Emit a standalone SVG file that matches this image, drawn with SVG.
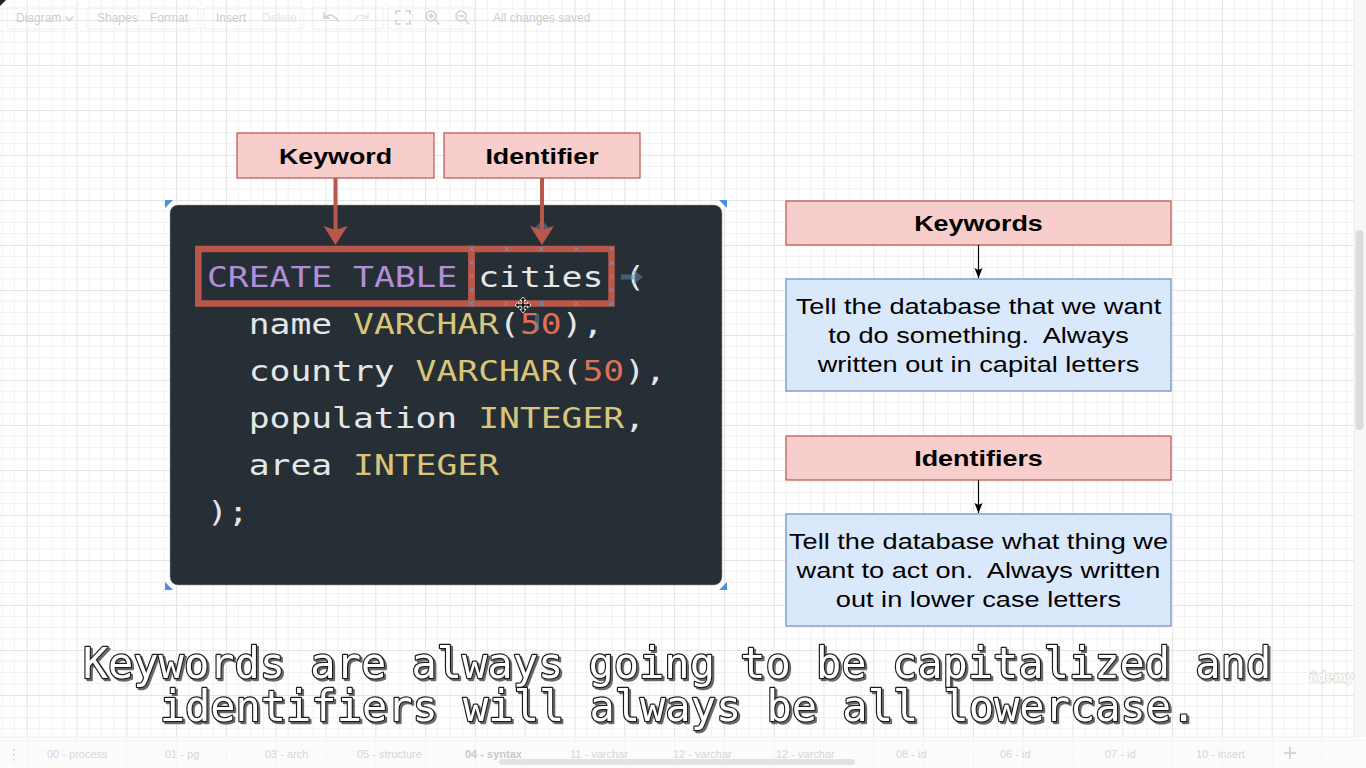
<svg xmlns="http://www.w3.org/2000/svg" width="1366" height="768" viewBox="0 0 1366 768">
<style>
.ui{font-family:"Liberation Sans",Arial,sans-serif;font-size:12px;fill:#cdcdcd}
.tab{font-family:"Liberation Sans",Arial,sans-serif;font-size:11px;fill:#d6d6d6}
.lbl{font-family:"Liberation Sans",Arial,sans-serif;font-size:22px;font-weight:bold;fill:#000;text-anchor:middle}
.body{font-family:"Liberation Sans",Arial,sans-serif;font-size:22px;fill:#000;text-anchor:middle}
.pink{fill:#f8cecc;stroke:#b85450;stroke-width:1.2}
.blue{fill:#dae8fc;stroke:#6c8ebf;stroke-width:1.2}
.code{font-family:"DejaVu Sans Mono","Liberation Mono",monospace;font-size:28.4px}
.kw{fill:#b18fd6}.id{fill:#e4e6e8}.ty{fill:#d9c57a}.num{fill:#df6f57}
.hl{fill:none;stroke:#b9584a;stroke-width:6.5}
.cp{stroke:#7b98bf;stroke-width:1}
.sub{font-family:"DejaVu Sans Mono","Liberation Mono",monospace;font-size:42px;text-anchor:middle;fill:#fff;stroke:#1a1a1a;stroke-width:2.4;paint-order:stroke fill;stroke-linejoin:round}
.sel{fill:#4a8fe0}
.hover{fill:#5b86aa;opacity:0.55}
.icon{fill:none;stroke:#d2d2d2;stroke-width:1.6;stroke-linecap:round}
.tbox{fill:none;stroke:#f0f0f0;stroke-width:1}
</style>
<defs>
<pattern id="grid" patternUnits="userSpaceOnUse" x="26.7" y="20" width="49.8" height="45">
<path d="M12.45 0V45M24.9 0V45M37.35 0V45M0 11.25H49.8M0 22.5H49.8M0 33.75H49.8" stroke="#f1f1f1" stroke-width="1" fill="none"/>
<path d="M0.5 0V45M0 0.5H49.8" stroke="#e4e4e4" stroke-width="1" fill="none"/>
</pattern>
<filter id="shadow" x="-5%" y="-20%" width="110%" height="140%">
<feDropShadow dx="2" dy="2" stdDeviation="0.4" flood-color="#5a5a5a" flood-opacity="0.9"/>
</filter>
<marker id="thick" markerUnits="userSpaceOnUse" markerWidth="20" markerHeight="26" refX="9" refY="12" orient="auto">
<path d="M0,0 L19,12 L0,24 L4,12 z" fill="#b9584a"/>
</marker>
<marker id="thin" markerUnits="userSpaceOnUse" markerWidth="11" markerHeight="9" refX="10" refY="4" orient="auto">
<path d="M0,0 L10,4 L0,8 L2,4 z" fill="#000"/>
</marker>
</defs>

<rect width="1366" height="768" fill="#fff"/>
<rect width="1366" height="768" fill="url(#grid)"/>
<polygon points="0,0 6,0 0,6" fill="#222"/>

<g id="toolbar">
<rect class="tbox" x="7" y="7" width="69" height="22" rx="3"/>
<rect class="tbox" x="87" y="7" width="111" height="22" rx="3"/>
<rect class="tbox" x="204" y="7" width="100" height="22" rx="3"/>
<rect class="tbox" x="312" y="7" width="71" height="22" rx="3"/>
<rect class="tbox" x="388" y="7" width="86" height="22" rx="3"/>
<text class="ui" x="16" y="22">Diagram</text>
<path class="icon" d="M66 17 L69.5 20.5 L73 17" stroke-width="1"/>
<text class="ui" x="97" y="22">Shapes</text>
<text class="ui" x="150" y="22">Format</text>
<text class="ui" x="216" y="22">Insert</text>
<text class="ui" x="262" y="22" style="fill:#e6e6e6">Delete</text>
<path class="icon" d="M324 18 Q332 11 338 21 M324 18 L324 13 M324 18 L329 18"/>
<path class="icon" d="M368 18 Q360 11 354 21 M368 18 L368 13 M368 18 L363 18" style="stroke:#e8e8e8"/>
<path class="icon" d="M396 14V11H400M406 11H410V14M410 21V24H406M400 24H396V21"/>
<circle class="icon" cx="431" cy="16" r="5"/>
<path class="icon" d="M435 20L439 24M428.5 16H433.5M431 13.5V18.5"/>
<circle class="icon" cx="461" cy="16" r="5"/>
<path class="icon" d="M465 20L469 24M458.5 16H463.5"/>
<text class="ui" x="493" y="22">All changes saved</text>
</g>

<g id="scrollbar-right">
<rect x="1354" y="0" width="12" height="737" fill="#f7f7f7"/>
<line x1="1354" y1="0" x2="1354" y2="737" stroke="#ececec"/>
<rect x="1355.5" y="230" width="8" height="200" rx="4" fill="#dcdcdc"/>
</g>

<g id="node-keyword-label">
<rect class="pink" x="237" y="133" width="197" height="45"/>
<text class="lbl" transform="translate(335.5 164) scale(1.22 1)">Keyword</text>
</g>
<g id="node-identifier-label">
<rect class="pink" x="444" y="133" width="196" height="45"/>
<text class="lbl" transform="translate(542 164) scale(1.22 1)">Identifier</text>
</g>

<g id="node-code">
<rect x="170" y="205" width="552" height="380" rx="8" fill="#262f35" stroke="#9aa4aa" stroke-opacity="0.5"/>
<polygon class="sel" points="165,200 173,200 165,208"/>
<polygon class="sel" points="727,200 719,200 727,208"/>
<polygon class="sel" points="165,590 173,590 165,582"/>
<polygon class="sel" points="727,590 719,590 727,582"/>
<g transform="translate(207 0) scale(1.22 1)" class="code">
<text y="287"><tspan class="kw" x="0">CREATE</tspan><tspan class="kw" x="119.7">TABLE</tspan><tspan class="id" x="222.3">cities</tspan><tspan class="id" x="342">(</tspan></text>
<text y="334"><tspan class="id" x="34.2">name</tspan><tspan class="ty" x="119.7">VARCHAR</tspan><tspan class="id" x="239.4">(</tspan><tspan class="num" x="256.5">50</tspan><tspan class="id" x="290.7">),</tspan></text>
<text y="381"><tspan class="id" x="34.2">country</tspan><tspan class="ty" x="171">VARCHAR</tspan><tspan class="id" x="290.7">(</tspan><tspan class="num" x="307.8">50</tspan><tspan class="id" x="342">),</tspan></text>
<text y="428"><tspan class="id" x="34.2">population</tspan><tspan class="ty" x="222.3">INTEGER</tspan><tspan class="id" x="342">,</tspan></text>
<text y="475"><tspan class="id" x="34.2">area</tspan><tspan class="ty" x="119.7">INTEGER</tspan></text>
<text y="522"><tspan class="id" x="0">);</tspan></text>
</g>
</g>

<g id="node-keyword-highlight">
<rect class="hl" x="198.3" y="249" width="273.2" height="54.5"/>
</g>
<g id="node-identifier-highlight">
<rect class="hl" x="471.5" y="249" width="140" height="54.5"/>
<path class="cp" d="M469.5 247l4 4m0-4l-4 4M504.5 247l4 4m0-4l-4 4M539.5 247l4 4m0-4l-4 4M574.5 247l4 4m0-4l-4 4M609.5 247l4 4m0-4l-4 4
M469.5 301.5l4 4m0-4l-4 4M504.5 301.5l4 4m0-4l-4 4M539.5 301.5l4 4m0-4l-4 4M574.5 301.5l4 4m0-4l-4 4M609.5 301.5l4 4m0-4l-4 4
M469.5 261l4 4m0-4l-4 4M469.5 274.5l4 4m0-4l-4 4M469.5 288l4 4m0-4l-4 4
M609.5 261l4 4m0-4l-4 4M609.5 274.5l4 4m0-4l-4 4M609.5 288l4 4m0-4l-4 4"/>
</g>

<g id="hover-hints">
<path class="hover" d="M542 220 L550 229 L544.5 229 L544.5 239 L539.5 239 L539.5 229 L534 229 Z"/>
<path class="hover" d="M643 277 L634 270 L634 274.5 L621 274.5 L621 279.5 L634 279.5 L634 284 Z"/>
<rect class="hover" x="535" y="314" width="4" height="16"/>
<path d="M523 297 L526 300.5 L524.2 300.5 L524.2 303.8 L527.5 303.8 L527.5 302 L531 305 L527.5 308 L527.5 306.2 L524.2 306.2 L524.2 309.5 L526 309.5 L523 313 L520 309.5 L521.8 309.5 L521.8 306.2 L518.5 306.2 L518.5 308 L515 305 L518.5 302 L518.5 303.8 L521.8 303.8 L521.8 300.5 L520 300.5 Z" fill="#111" stroke="#fff" stroke-width="0.8"/>
</g>

<g id="node-keywords-title">
<rect class="pink" x="786" y="201" width="385" height="44"/>
<text class="lbl" transform="translate(978.5 231) scale(1.225 1)">Keywords</text>
</g>
<g id="node-keywords-desc">
<rect class="blue" x="786" y="279" width="385" height="112"/>
<g transform="translate(978.5 0) scale(1.235 1)">
<text class="body" x="0" y="314">Tell the database that we want</text>
<text class="body" x="0" y="343" xml:space="preserve">to do something.  Always</text>
<text class="body" x="0" y="372">written out in capital letters</text>
</g>
</g>
<g id="node-identifiers-title">
<rect class="pink" x="786" y="436" width="385" height="44"/>
<text class="lbl" transform="translate(978.5 466) scale(1.225 1)">Identifiers</text>
</g>
<g id="node-identifiers-desc">
<rect class="blue" x="786" y="514" width="385" height="112"/>
<g transform="translate(978.5 0) scale(1.235 1)">
<text class="body" x="0" y="549">Tell the database what thing we</text>
<text class="body" x="0" y="578" xml:space="preserve">want to act on.  Always written</text>
<text class="body" x="0" y="607">out in lower case letters</text>
</g>
</g>

<g id="connectors">
<line x1="335.5" y1="178" x2="335.5" y2="235" stroke="#b9584a" stroke-width="4" marker-end="url(#thick)"/>
<line x1="542" y1="178" x2="542" y2="235" stroke="#b9584a" stroke-width="4" marker-end="url(#thick)"/>
<line x1="978.5" y1="245" x2="978.5" y2="278" stroke="#000" stroke-width="1.2" marker-end="url(#thin)"/>
<line x1="978.5" y1="480" x2="978.5" y2="513" stroke="#000" stroke-width="1.2" marker-end="url(#thin)"/>
</g>

<g id="tabbar">
<rect x="0" y="737" width="1366" height="31" fill="#fbfbfb" opacity="0.75"/>
<line x1="0" y1="737" x2="1354" y2="737" stroke="#ebebeb"/>
<path d="M14 749v1.5M14 754v1.5M14 759v1.5" stroke="#d6d6d6" stroke-width="2"/>
<text class="tab" x="47" y="758">00 - process</text>
<text class="tab" x="165" y="758">01 - pg</text>
<text class="tab" x="265" y="758">03 - arch</text>
<text class="tab" x="357" y="758">05 - structure</text>
<text class="tab" x="465" y="758" style="font-weight:bold;fill:#c8c8c8">04 - syntax</text>
<text class="tab" x="570" y="758">11 - varchar</text>
<text class="tab" x="673" y="758">12 - varchar</text>
<text class="tab" x="776" y="758">12 - varchar</text>
<text class="tab" x="896" y="758">08 - id</text>
<text class="tab" x="1000" y="758">06 - id</text>
<text class="tab" x="1105" y="758">07 - id</text>
<text class="tab" x="1196" y="758">10 - insert</text>
<path d="M1290 747v12M1284 753h12" stroke="#d6d6d6" stroke-width="2"/>
<rect x="499" y="759" width="356" height="6" rx="3" fill="#e2e2e2"/>
</g>

<g id="subtitle" filter="url(#shadow)">
<text class="sub"><tspan x="677" y="678">Keywords are always going to be capitalized and</tspan><tspan x="678" y="721">identifiers will always be all lowercase.</tspan></text>
</g>
<text x="1309" y="682" style="font-family:'Liberation Sans',Arial,sans-serif;font-size:14px;font-weight:bold;fill:#fff;stroke:#bdbdbd;stroke-width:0.8;paint-order:stroke fill">ûdemy</text>
</svg>
